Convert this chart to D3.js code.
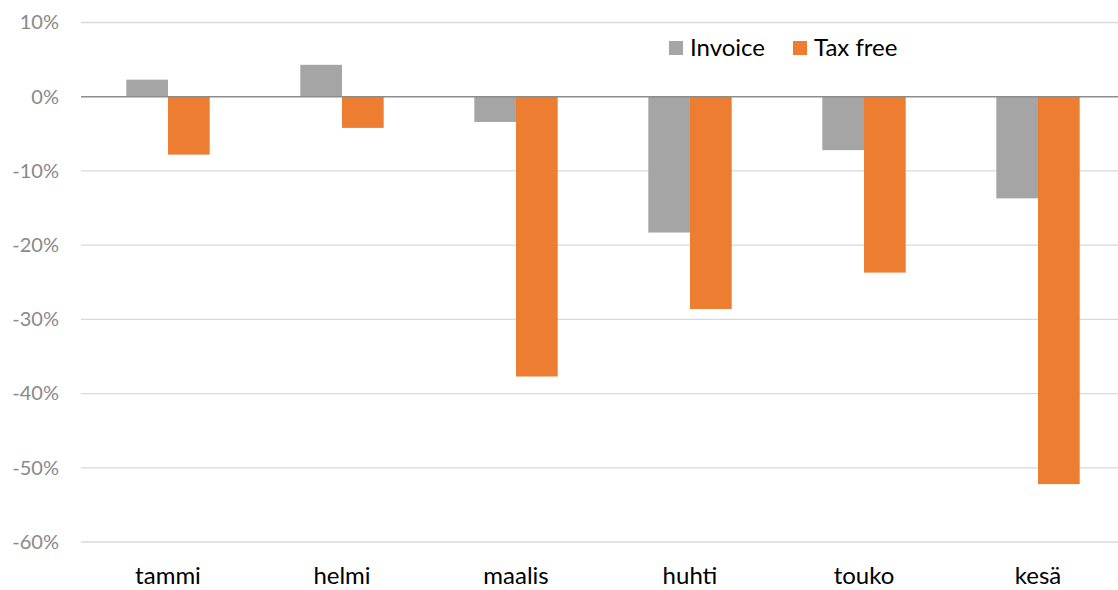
<!DOCTYPE html>
<html>
<head>
<meta charset="utf-8">
<script src="https://cdn.jsdelivr.net/npm/d3@7"></script>
<style>
  body { margin: 0; background: #fff; }
  svg { display: block; font-family: Lato, "Open Sans", sans-serif; }
</style>
</head>
<body>
<div id="chart"></div>
<script>
const months = ["tammi", "helmi", "maalis", "huhti", "touko", "kesä"];
const invoice = [2.3, 4.3, -3.4, -18.3, -7.2, -13.7];
const taxFree = [-7.8, -4.2, -37.7, -28.6, -23.7, -52.2];
const yTicks = [10, 0, -10, -20, -30, -40, -50, -60];
const seriesNames = ["Invoice", "Tax free"];
const colors = ["#a5a5a5", "#ed7d31"];

const width = 1118, height = 590;

const svg = d3.select("#chart")
  .append("svg")
  .attr("width", width)
  .attr("height", height);

// band scale runs a bit past the right edge, like the cropped original
const x = d3.scaleBand()
  .domain(months)
  .range([81, 1125]);

const x1 = d3.scaleBand()
  .domain(seriesNames)
  .range([x.bandwidth() / 2 - 41.7, x.bandwidth() / 2 + 41.7]);

const y = d3.scaleLinear()
  .domain([-60, 10])
  .range([542, 22.5]);

// gridlines
svg.append("g")
  .selectAll("line")
  .data(yTicks.filter(d => d !== 0))
  .enter()
  .append("line")
  .attr("x1", 81)
  .attr("x2", width)
  .attr("y1", d => y(d))
  .attr("y2", d => y(d))
  .attr("stroke", "#d9d9d9")
  .attr("stroke-width", 1.3);

// y axis labels
const yAxis = d3.axisLeft(y)
  .tickValues(yTicks)
  .tickFormat(d => d + "%")
  .tickSize(0)
  .tickPadding(0);

svg.append("g")
  .attr("transform", "translate(59,0)")
  .call(yAxis)
  .call(g => g.select(".domain").remove())
  .selectAll("text")
  .attr("font-family", "Lato, 'Open Sans', sans-serif")
  .attr("font-size", 20)
  .attr("fill", "#898989");

const rows = months.map((m, i) => ({ month: m, values: [invoice[i], taxFree[i]] }));

const groups = svg.append("g")
  .selectAll("g")
  .data(rows)
  .enter()
  .append("g")
  .attr("transform", d => `translate(${x(d.month)},0)`);

groups.selectAll("rect")
  .data(d => d.values.map((v, j) => ({ name: seriesNames[j], value: v, color: colors[j] })))
  .enter()
  .append("rect")
  .attr("x", d => x1(d.name))
  .attr("width", x1.bandwidth())
  .attr("y", d => y(Math.max(0, d.value)))
  .attr("height", d => Math.abs(y(d.value) - y(0)))
  .attr("fill", d => d.color);

// zero line
svg.append("line")
  .attr("x1", 81)
  .attr("x2", width)
  .attr("y1", y(0))
  .attr("y2", y(0))
  .attr("stroke", "#8c8c8c")
  .attr("stroke-width", 1.5);

// category labels
const xAxis = d3.axisBottom(x).tickSize(0).tickPadding(0);
svg.append("g")
  .attr("transform", "translate(0,567)")
  .call(xAxis)
  .call(g => g.select(".domain").remove())
  .selectAll("text")
  .attr("font-family", "Lato, 'Open Sans', sans-serif")
  .attr("font-size", 24)
  .attr("fill", "#000");

// legend
const legendX = [669, 793];
const legend = svg.append("g")
  .selectAll("g")
  .data(seriesNames)
  .enter()
  .append("g")
  .attr("transform", (d, i) => `translate(${legendX[i]},41)`);

legend.append("rect")
  .attr("width", 14)
  .attr("height", 14)
  .attr("fill", (d, i) => colors[i]);

legend.append("text")
  .attr("x", 21)
  .attr("y", 15)
  .attr("font-size", 24)
  .attr("fill", "#000")
  .text(d => d);
</script>
</body>
</html>
